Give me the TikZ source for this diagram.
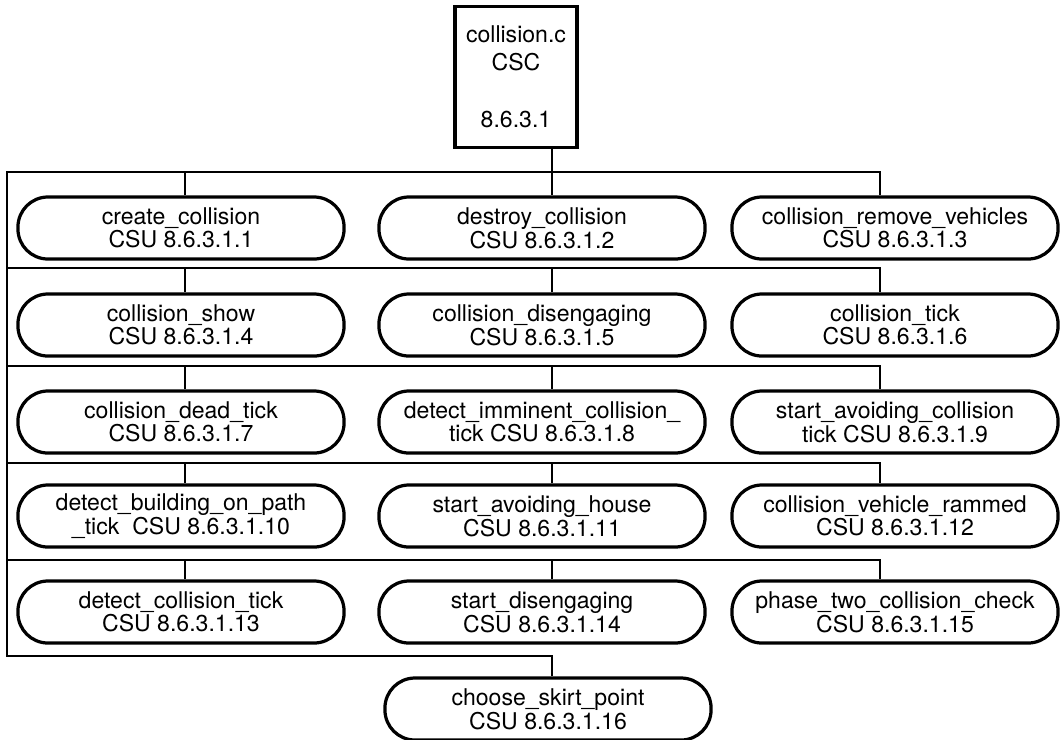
\documentclass[tikz,border=0pt]{standalone}
\usepackage{fontspec}
\setmainfont{TeX Gyre Heros}
\usepackage{tikz}
\usetikzlibrary{positioning}

\newcommand{\boxfont}{\fontsize{16.4pt}{14.9pt}\selectfont}

\begin{document}
\begin{tikzpicture}[x=0.025cm, y=-0.025cm,
  csu/.style={draw, line width=2.3pt, rounded corners=0.75cm, minimum width=8.15cm,
    minimum height=1.55cm, inner sep=0pt, align=center, font=\boxfont},
  csc/.style={draw, line width=2.3pt, minimum width=3.05cm, minimum height=3.52cm,
    inner sep=0pt, align=center, font=\boxfont},
  link/.style={line width=2.1pt, line join=miter}]

\useasboundingbox (0,0) rectangle (1064,739);

% ---- top level CSC ---------------------------------------------------------
\node[csc] (csc) at (516,77) {collision.c\\[4.5pt]CSC\\[26pt]8.6.3.1};

% ---- CSU boxes, three per row ----------------------------------------------
\node[csu] (csu11) at (181,228) {create\_collision\\CSU 8.6.3.1.1};
\node[csu] (csu12) at (542,228) {destroy\_collision\\CSU 8.6.3.1.2};
\node[csu] (csu13) at (895,228) {collision\_remove\_vehicles\\CSU 8.6.3.1.3};

\node[csu] (csu21) at (181,325) {collision\_show\\CSU 8.6.3.1.4};
\node[csu] (csu22) at (542,325) {collision\_disengaging\\CSU 8.6.3.1.5};
\node[csu] (csu23) at (895,325) {collision\_tick\\CSU 8.6.3.1.6};

\node[csu] (csu31) at (181,422) {collision\_dead\_tick\\CSU 8.6.3.1.7};
\node[csu] (csu32) at (542,422) {detect\_imminent\_collision\_\\tick CSU 8.6.3.1.8};
\node[csu] (csu33) at (895,422) {start\_avoiding\_collision\\tick CSU 8.6.3.1.9};

\node[csu] (csu41) at (181,516) {detect\_building\_on\_path\\\_tick\ \ CSU 8.6.3.1.10};
\node[csu] (csu42) at (542,516) {start\_avoiding\_house\\CSU 8.6.3.1.11};
\node[csu] (csu43) at (895,516) {collision\_vehicle\_rammed\\CSU 8.6.3.1.12};

\node[csu] (csu51) at (181,612) {detect\_collision\_tick\\CSU 8.6.3.1.13};
\node[csu] (csu52) at (542,612) {start\_disengaging\\CSU 8.6.3.1.14};
\node[csu] (csu53) at (895,612) {phase\_two\_collision\_check\\CSU 8.6.3.1.15};

\node[csu] (csu61) at (548,709) {choose\_skirt\_point\\CSU 8.6.3.1.16};

% ---- call tree -------------------------------------------------------------
\draw[link] (csc.south -| 552,0) -- (552,172);
\draw[link] (880,172) -- (7,172) -- (7,656) -- (552,656) -- (552,656 |- csu61.north);

\foreach \row/\yb in {1/172, 2/268, 3/366, 4/463, 5/560} {
  \draw[link] (7,\yb) -- (880,\yb) -- (880,\yb |- csu\row3.north);
  \draw[link] (185,\yb) -- (185,\yb |- csu\row1.north);
  \draw[link] (552,\yb) -- (552,\yb |- csu\row2.north);
}

\end{tikzpicture}
\end{document}
